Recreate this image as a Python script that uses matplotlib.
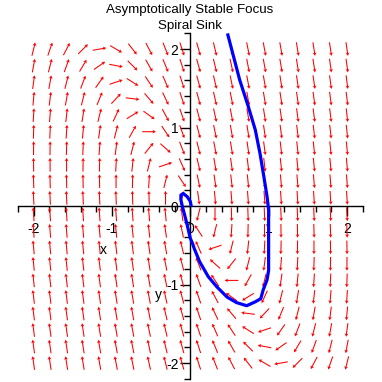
import numpy as np
import matplotlib
matplotlib.use("Agg")
import matplotlib.pyplot as plt
from matplotlib.ticker import MultipleLocator

# linear system: x' = a*x + b*y, y' = c*x + d*y
coef_a, coef_b = 0.1, 0.3
coef_c, coef_d = -1.8, -1.0

# solution curve
traj_x = [0.48, 0.63, 0.74, 0.83, 0.89, 0.94, 0.98, 1.00, 1.00, 1.00, 1.00,
          0.98, 0.93, 0.90, 0.83, 0.72, 0.59, 0.47, 0.34, 0.23, 0.12, 0.05,
          0.03, 0.00, -0.04, -0.07, -0.10, -0.12, -0.12, -0.09, -0.04, 0.00, 0.01]
traj_y = [2.18, 1.61, 1.27, 0.97, 0.67, 0.37, 0.12, -0.05, -0.26, -0.52, -0.82,
          -0.94, -1.07, -1.18, -1.22, -1.27, -1.23, -1.16, -1.03, -0.90, -0.71, -0.54,
          -0.48, -0.41, -0.24, -0.12, -0.01, 0.08, 0.14, 0.16, 0.12, 0.06, 0.01]

major_ticks = [-2, -1, 0, 1, 2]
tick_labels = ["-2", "-1", "0", "1", "2"]

plt.rcParams['font.family'] = ['Liberation Sans', 'DejaVu Sans']

fig = plt.figure(figsize=(3.82, 3.82), dpi=100)
ax = fig.add_axes([0.0469, 0.0086, 0.9024, 0.904])
ax.set_xlim(-2.2, 2.2)
ax.set_ylim(-2.2, 2.2)

# direction field, 20 x 20 arrows of equal length
g = np.linspace(-2, 2, 20)
X, Y = np.meshgrid(g, g)
U = coef_a * X + coef_b * Y
V = coef_c * X + coef_d * Y
n = np.hypot(U, V)
L = 0.175
ax.quiver(X, Y, U / n * L, V / n * L, angles='xy', scale_units='xy', scale=1,
          units='xy', width=0.0135, headwidth=3.6, headlength=3.2,
          headaxislength=2.6, pivot='middle', color='#ff0000', zorder=2)

ax.plot(traj_x, traj_y, color='#0000ff', lw=2.3, zorder=3)

# axes through the origin, Maple style
for s in ['top', 'right']:
    ax.spines[s].set_visible(False)
ax.spines['left'].set_position(('data', 0))
ax.spines['bottom'].set_position(('data', 0))
for s in ['left', 'bottom']:
    ax.spines[s].set_linewidth(1.0)
    ax.spines[s].set_zorder(1)

ax.set_xticks(major_ticks)
ax.set_xticklabels(tick_labels)
ax.set_yticks(major_ticks)
ax.set_yticklabels(tick_labels)
ax.xaxis.set_minor_locator(MultipleLocator(0.2))
ax.yaxis.set_minor_locator(MultipleLocator(0.2))
ax.tick_params(axis='x', which='major', direction='out', length=7, width=1,
               pad=4.5, labelsize=10)
ax.tick_params(axis='y', which='major', direction='out', length=7, width=1,
               pad=1.5, labelsize=10)
ax.tick_params(which='minor', direction='out', length=4.5, width=1)
ax.patch.set_visible(False)

fig.text(103 / 382, 1 - 250 / 382, 'x', ha='center', va='center', fontsize=10)
fig.text(158 / 382, 1 - 295 / 382, 'y', ha='center', va='center', fontsize=10)

fig.text(190 / 382, 1 - 10 / 382, 'Asymptotically Stable Focus',
         ha='center', va='center', fontsize=9.6)
fig.text(190 / 382, 1 - 26 / 382, 'Spiral Sink',
         ha='center', va='center', fontsize=9.6)

fig.savefig('out.png', dpi=100)
